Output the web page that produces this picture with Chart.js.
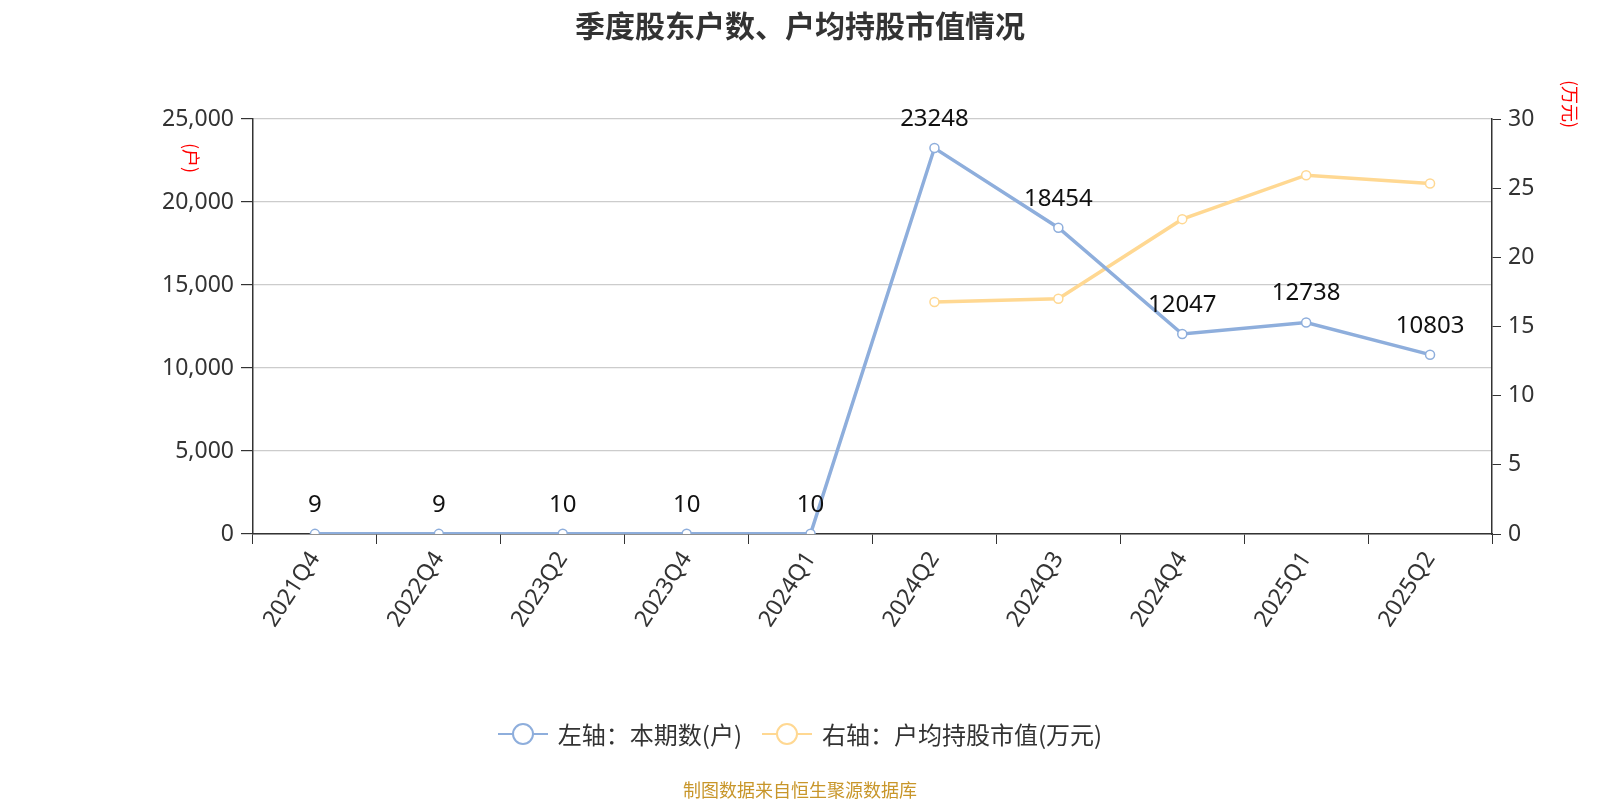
<!DOCTYPE html>
<html>
<head>
<meta charset="utf-8">
<script src="https://cdn.jsdelivr.net/npm/chart.js@4/dist/chart.umd.min.js"></script>
<style>
  html, body { margin: 0; padding: 0; background: #fff; }
  body { width: 1600px; height: 800px; position: relative; overflow: hidden;
         font-family: "Noto Sans", "Noto Sans CJK SC", sans-serif; }
  #wrap { position: absolute; left: 0; top: 0; width: 1600px; height: 800px; }
  .title { position: absolute; top: 2px; left: 0; width: 1600px; text-align: center;
           font-family: "Noto Sans CJK SC", sans-serif; font-weight: bold; font-size: 30px; color: #333; }
  .unit { position: absolute; color: #f00; font-family: "Noto Sans CJK SC", sans-serif; font-size: 18px;
          writing-mode: vertical-rl; text-orientation: sideways; }
  .legend { position: absolute; top: 716px; left: 0; width: 1600px; display: flex; justify-content: center;
            align-items: center; font-family: "Noto Sans CJK SC", sans-serif; font-size: 24px; color: #333; }
  .legend .item { display: flex; align-items: center; margin: 0 10px; }
  .legend svg { margin-right: 10px; }
  .footer { position: absolute; top: 776px; left: 0; width: 1600px; text-align: center;
            font-family: "Noto Sans CJK SC", sans-serif; font-size: 18px; color: #c8962a; }
</style>
</head>
<body>
<div id="wrap"><canvas id="myChart" width="1600" height="800"></canvas></div>
<div class="title">季度股东户数、户均持股市值情况</div>
<div class="unit" style="left:179px; top:143px;">(户)</div>
<div class="unit" style="left:1558px; top:80px;">(万元)</div>
<div class="legend">
  <div class="item">
    <svg width="50" height="26"><line x1="0" y1="13" x2="50" y2="13" stroke="#8eaedc" stroke-width="2"/><circle cx="25" cy="13" r="10" fill="#fff" stroke="#8eaedc" stroke-width="2"/></svg>
    <span>左轴：本期数(户)</span>
  </div>
  <div class="item">
    <svg width="50" height="26"><line x1="0" y1="13" x2="50" y2="13" stroke="#ffd892" stroke-width="2"/><circle cx="25" cy="13" r="10" fill="#fff" stroke="#ffd892" stroke-width="2"/></svg>
    <span>右轴：户均持股市值(万元)</span>
  </div>
</div>
<div class="footer">制图数据来自恒生聚源数据库</div>
<script>
const quarters = ["2021Q4", "2022Q4", "2023Q2", "2023Q4", "2024Q1", "2024Q2", "2024Q3", "2024Q4", "2025Q1", "2025Q2"];
const holders = [9, 9, 10, 10, 10, 23248, 18454, 12047, 12738, 10803];
const avgValue = [null, null, null, null, null, 16.77, 17.0, 22.76, 25.94, 25.34];
const leftTicks = [0, 5000, 10000, 15000, 20000, 25000];
const rightTicks = [0, 5, 10, 15, 20, 25, 30];

const blue = "#8eaedc";
const yellow = "#ffd892";
const tickFont = { family: '"Noto Sans", "Noto Sans CJK SC", sans-serif', size: 23 };

// draws the value above each point of the first series
const pointLabels = {
  id: "pointLabels",
  afterDatasetsDraw(chart) {
    const ctx = chart.ctx;
    const meta = chart.getDatasetMeta(0);
    ctx.save();
    ctx.font = '24px "Noto Sans", sans-serif';
    ctx.fillStyle = "#111";
    ctx.textAlign = "center";
    ctx.textBaseline = "middle";
    meta.data.forEach((pt, i) => {
      ctx.fillText(String(holders[i]), pt.x, pt.y - 29);
    });
    ctx.restore();
  }
};

const ctx = document.getElementById("myChart").getContext("2d");
const myChart = new Chart(ctx, {
  type: "line",
  data: {
    labels: quarters,
    datasets: [
      {
        label: "左轴：本期数(户)",
        data: holders,
        yAxisID: "y",
        borderColor: blue,
        backgroundColor: "#fff",
        borderWidth: 3.5,
        pointRadius: 4.5,
        pointBorderWidth: 1.5,
        pointBackgroundColor: "#fff",
        pointBorderColor: blue,
        tension: 0
      },
      {
        label: "右轴：户均持股市值(万元)",
        data: avgValue,
        yAxisID: "y1",
        borderColor: yellow,
        backgroundColor: "#fff",
        borderWidth: 3.5,
        pointRadius: 4.5,
        pointBorderWidth: 1.5,
        pointBackgroundColor: "#fff",
        pointBorderColor: yellow,
        tension: 0
      }
    ]
  },
  options: {
    responsive: false,
    animation: false,
    layout: { padding: { top: 119 } },
    plugins: {
      legend: { display: false },
      title: { display: false },
      tooltip: { enabled: false }
    },
    scales: {
      x: {
        offset: true,
        grid: { offset: true, drawOnChartArea: false, color: "#333", tickColor: "#333", tickLength: 10 },
        border: { color: "#333", width: 1.5 },
        ticks: { color: "#333", font: { family: tickFont.family, size: 23 }, minRotation: 57, maxRotation: 57, padding: 3, autoSkip: false },
        afterFit(scale) { scale.height = 266; }
      },
      y: {
        position: "left",
        min: 0,
        max: 25000,
        afterBuildTicks(scale) { scale.ticks = leftTicks.map(v => ({ value: v })); },
        grid: { color: "#cccccc", lineWidth: 1.2, tickColor: "#333", tickLength: 12 },
        border: { color: "#333", width: 1.5 },
        ticks: {
          color: "#333", font: tickFont, padding: 7,
          callback: v => v.toLocaleString("en-US")
        },
        afterFit(scale) { scale.width = 253; }
      },
      y1: {
        position: "right",
        min: 0,
        max: 30,
        afterBuildTicks(scale) { scale.ticks = rightTicks.map(v => ({ value: v })); },
        grid: { drawOnChartArea: false, tickColor: "#333", tickLength: 9 },
        border: { color: "#333", width: 1.5 },
        ticks: { color: "#333", font: tickFont, padding: 7 },
        afterFit(scale) { scale.width = 108; }
      }
    }
  },
  plugins: [pointLabels]
});
</script>
</body>
</html>
